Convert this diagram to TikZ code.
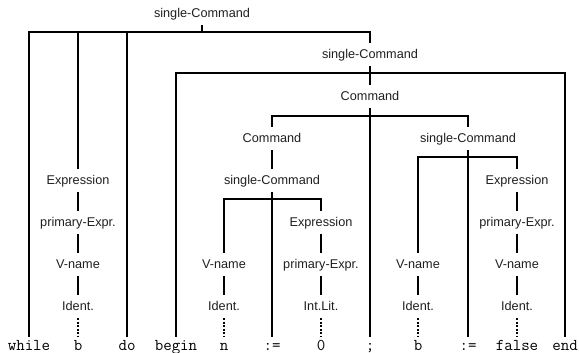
\documentclass[tikz,border=0pt]{standalone}
\usepackage{fontspec}
\setsansfont{Liberation Sans}
\begin{document}
\begin{tikzpicture}[x=1pt,y=-1pt,
  nt/.style={font=\fontsize{12.7}{14}\sffamily, text=black!88, inner sep=0pt, text height=15.5pt, text depth=7.5pt, anchor=base},
  tm/.style={font=\fontsize{16.5}{18}\ttfamily, inner sep=0pt, text height=13pt, text depth=0pt, anchor=base},
  edge/.style={line width=1.9pt},
  dot/.style={line width=1.9pt, dash pattern=on 2.2pt off 1.3pt}]
\useasboundingbox (0,0) rectangle (579,353);
% nonterminals (label centre y + 4.5 = baseline)
\node[nt] (sc1) at (202,17.5) {single-Command};
\node[nt] (sc2) at (370,58.5) {single-Command};
\node[nt] (cmd) at (370,100.5) {Command};
\node[nt] (cmdL) at (272,142.5) {Command};
\node[nt] (scR) at (468,142.5) {single-Command};
\node[nt] (e1) at (78,184.5) {Expression};
\node[nt] (scL) at (272,184.5) {single-Command};
\node[nt] (e3) at (517,184.5) {Expression};
\node[nt] (p1) at (78,226.5) {primary-Expr.};
\node[nt] (e2) at (321,226.5) {Expression};
\node[nt] (p3) at (517,226.5) {primary-Expr.};
\node[nt] (v1) at (78,268.5) {V-name};
\node[nt] (v2) at (224,268.5) {V-name};
\node[nt] (p2) at (321,268.5) {primary-Expr.};
\node[nt] (v4) at (418,268.5) {V-name};
\node[nt] (v3) at (517,268.5) {V-name};
\node[nt] (i1) at (78,310.5) {Ident.};
\node[nt] (i2) at (224,310.5) {Ident.};
\node[nt] (lit) at (321,310.5) {Int.Lit.};
\node[nt] (i4) at (418,310.5) {Ident.};
\node[nt] (i3) at (517,310.5) {Ident.};
% terminals
\node[tm] (while) at (29,350) {while};
\node[tm] (tb) at (78,350) {b};
\node[tm] (do) at (127,350) {do};
\node[tm] (begin) at (176,350) {begin};
\node[tm] (tn) at (224,350) {n};
\node[tm] (as1) at (272,350) {:=};
\node[tm] (zero) at (321,350) {0};
\node[tm] (semi) at (370,350) {;};
\node[tm] (tb2) at (418,350) {b};
\node[tm] (as2) at (468,350) {:=};
\node[tm] (false) at (517,350) {false};
\node[tm] (end) at (565,350) {end};
% top single-Command
\draw[edge] (sc1.south) -- ++(0,-7pt) coordinate (b1);
\draw[edge] (while.north) |- (b1) -| (sc2.north);
\draw[edge] (e1.north) -- (e1.north |- b1);
\draw[edge] (do.north) -- (do.north |- b1);
% second single-Command
\draw[edge] (sc2.south) -- ++(0,-7pt) coordinate (b2);
\draw[edge] (begin.north) |- (b2) -| (end.north);
\draw[edge] (cmd.north) -- (cmd.north |- b2);
% Command
\draw[edge] (cmd.south) -- (semi.north);
\coordinate (b3) at ([yshift=-8pt]cmd.south);
\draw[edge] (cmdL.north) |- (b3) -| (scR.north);
% left Command -> single-Command
\draw[edge] (cmdL.south) -- (scL.north);
\draw[edge] (scL.south) -- (as1.north);
\coordinate (b4) at ([yshift=-7pt]scL.south);
\draw[edge] (v2.north) |- (b4) -| (e2.north);
% right single-Command
\draw[edge] (scR.south) -- (as2.north);
\coordinate (b5) at ([yshift=-7pt]scR.south);
\draw[edge] (v4.north) |- (b5) -| (e3.north);
% chains
\draw[edge] (e1.south) -- (p1.north);
\draw[edge] (p1.south) -- (v1.north);
\draw[edge] (v1.south) -- (i1.north);
\draw[dot] (i1.south) -- (tb.north);
\draw[edge] (v2.south) -- (i2.north);
\draw[dot] (i2.south) -- (tn.north);
\draw[edge] (e2.south) -- (p2.north);
\draw[edge] (p2.south) -- (lit.north);
\draw[dot] (lit.south) -- (zero.north);
\draw[edge] (v4.south) -- (i4.north);
\draw[dot] (i4.south) -- (tb2.north);
\draw[edge] (e3.south) -- (p3.north);
\draw[edge] (p3.south) -- (v3.north);
\draw[edge] (v3.south) -- (i3.north);
\draw[dot] (i3.south) -- (false.north);
\end{tikzpicture}
\end{document}
